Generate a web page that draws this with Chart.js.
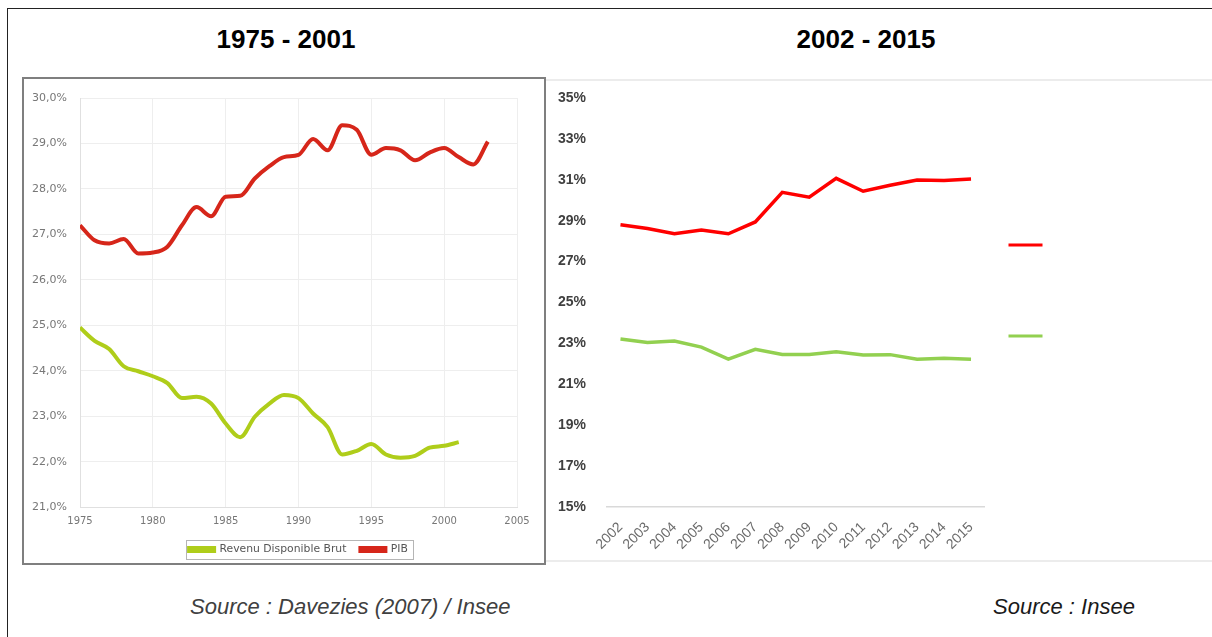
<!DOCTYPE html>
<html>
<head>
<meta charset="utf-8">
<script src="https://cdn.jsdelivr.net/npm/chart.js@4.4.1/dist/chart.umd.min.js"></script>
<style>
  body { margin: 0; width: 1212px; height: 637px; background: #fff; position: relative; overflow: hidden; font-family: "Liberation Sans", Arial, sans-serif; }
  #frame { position: absolute; left: 7px; top: 8px; width: 1230px; height: 650px; border-left: 1.5px solid #222; border-top: 1.5px solid #222; }
  .title { position: absolute; top: 24px; width: 300px; text-align: center; font-weight: bold; font-size: 26px; color: #000; }
  #boxLeft { position: absolute; left: 22px; top: 77px; width: 520px; height: 484px; border: 2px solid #7f7f7f; background: #fff; }
  #boxRight { position: absolute; left: 546px; top: 79px; width: 666px; height: 479px; border-top: 2px solid #ececec; border-bottom: 2px solid #ececec; }
  canvas { display: block; }
  .src { position: absolute; top: 594px; font-style: italic; font-size: 22px; }
</style>
</head>
<body>
<div id="frame"></div>
<div class="title" style="left:136px">1975 - 2001</div>
<div class="title" style="left:716px">2002 - 2015</div>
<div id="boxLeft"><canvas id="left" width="520" height="484"></canvas></div>
<div id="boxRight"><canvas id="right" width="666" height="479"></canvas></div>
<div class="src" style="left:190px; color:#404040">Source : Davezies (2007) / Insee</div>
<div class="src" style="left:993px; color:#1a1a1a">Source : Insee</div>

<script>
// 1975 - 2001 (Davezies / Insee), part du PIB en %
const yearsPib = [1975, 1976, 1977, 1978, 1979, 1980, 1981, 1982, 1983, 1984, 1985, 1986, 1987, 1988, 1989,
                  1990, 1991, 1992, 1993, 1994, 1995, 1996, 1997, 1998, 1999, 2000, 2001, 2002, 2003];
const pibShare = [27.2, 26.87, 26.8, 26.9, 26.58, 26.6, 26.73, 27.2, 27.6, 27.4, 27.83, 27.85, 28.23, 28.5, 28.7,
                  28.75, 29.1, 28.85, 29.4, 29.3, 28.75, 28.9, 28.85, 28.63, 28.8, 28.9, 28.7, 28.54, 29.04];
const yearsRdb = [1975, 1976, 1977, 1978, 1979, 1980, 1981, 1982, 1983, 1984, 1985, 1986, 1987, 1988, 1989,
                  1990, 1991, 1992, 1993, 1994, 1995, 1996, 1997, 1998, 1999, 2000, 2001];
const rdbShare = [24.95, 24.66, 24.48, 24.1, 23.99, 23.88, 23.73, 23.4, 23.43, 23.28, 22.84, 22.54, 22.99, 23.28, 23.47,
                  23.4, 23.06, 22.76, 22.16, 22.24, 22.39, 22.16, 22.09, 22.13, 22.31, 22.35, 22.43];

// 2002 - 2015 (Insee)
const years2 = ['2002', '2003', '2004', '2005', '2006', '2007', '2008', '2009', '2010', '2011', '2012', '2013', '2014', '2015'];
const pibShare2 = [28.8, 28.62, 28.36, 28.55, 28.36, 28.94, 30.39, 30.15, 31.07, 30.44, 30.73, 30.99, 30.97, 31.04];
const rdbShare2 = [23.22, 23.05, 23.12, 22.82, 22.23, 22.71, 22.46, 22.46, 22.59, 22.43, 22.45, 22.23, 22.27, 22.23];

function toPoints(xs, ys) {
  return xs.map((x, i) => ({ x: x, y: ys[i] }));
}

// cadre gris autour de la légende du graphique de gauche
const legendFrame = {
  id: 'legendFrame',
  afterDraw(chart) {
    const lg = chart.legend;
    if (!lg || !lg.legendHitBoxes || !lg.legendHitBoxes.length) return;
    const boxes = lg.legendHitBoxes;
    const l = Math.min(...boxes.map(b => b.left)) - 3;
    const r = Math.max(...boxes.map(b => b.left + b.width)) + 5;
    const t = boxes[0].top - 4;
    const h = boxes[0].height + 8;
    const ctx = chart.ctx;
    ctx.save();
    ctx.strokeStyle = '#b5b5b5';
    ctx.lineWidth = 1;
    ctx.strokeRect(Math.round(l) + 0.5, Math.round(t) + 0.5, Math.round(r - l), Math.round(h));
    ctx.restore();
  }
};

const leftFont = { family: 'DejaVu Sans', size: 10 };

new Chart(document.getElementById('left'), {
  type: 'line',
  data: {
    datasets: [
      {
        label: 'Revenu Disponible Brut',
        data: toPoints(yearsRdb, rdbShare),
        borderColor: '#afcd1a',
        backgroundColor: '#afcd1a',
        borderWidth: 4,
        pointRadius: 0,
        cubicInterpolationMode: 'monotone'
      },
      {
        label: 'PIB',
        data: toPoints(yearsPib, pibShare),
        borderColor: '#d6261a',
        backgroundColor: '#d6261a',
        borderWidth: 4,
        pointRadius: 0,
        cubicInterpolationMode: 'monotone'
      }
    ]
  },
  options: {
    responsive: false,
    animation: false,
    layout: { padding: { left: 8, top: 19, right: 27, bottom: -2 } },
    plugins: {
      tooltip: { enabled: false },
      legend: {
        position: 'bottom',
        fullSize: false,
        labels: { boxWidth: 25, boxHeight: 3, padding: 14, color: '#555', font: { family: 'DejaVu Sans', size: 10.8 } }
      }
    },
    scales: {
      x: {
        type: 'linear',
        min: 1975,
        max: 2005,
        ticks: { stepSize: 5, padding: 8, color: '#777', font: leftFont, callback: v => String(v) },
        grid: { color: '#eeeeee', drawTicks: false },
        border: { color: '#e0e0e0' },
        afterFit: s => { s.height = 23; }
      },
      y: {
        min: 21,
        max: 30,
        ticks: { stepSize: 1, crossAlign: 'far', color: '#777', font: { family: 'DejaVu Sans', size: 11 },
                 callback: v => v.toFixed(1).replace('.', ',') + '%' },
        grid: { color: '#eeeeee', drawTicks: false },
        border: { color: '#e0e0e0' },
        afterFit: s => { s.width = 48; }
      }
    }
  },
  plugins: [legendFrame]
});

new Chart(document.getElementById('right'), {
  type: 'line',
  data: {
    labels: years2,
    datasets: [
      { label: 'PIB', data: pibShare2, borderColor: '#ff0000', backgroundColor: '#ff0000', borderWidth: 3.5, pointRadius: 0, tension: 0 },
      { label: 'Revenu Disponible Brut', data: rdbShare2, borderColor: '#92d050', backgroundColor: '#92d050', borderWidth: 3.5, pointRadius: 0, tension: 0 }
    ]
  },
  options: {
    responsive: false,
    animation: false,
    layout: { padding: { left: 12, top: 17, right: 126, bottom: 0 } },
    plugins: {
      tooltip: { enabled: false },
      legend: {
        position: 'right',
        fullSize: false,
        align: 'center',
        title: { display: true, text: '', font: { size: 1, lineHeight: 0 }, padding: { top: -24, bottom: 0 } },
        labels: {
          boxWidth: 34,
          boxHeight: 3,
          padding: 24,
          font: { size: 67 },
          generateLabels: chart => chart.data.datasets.map((d, i) => ({
            text: '', fillStyle: d.borderColor, strokeStyle: d.borderColor, lineWidth: 0, datasetIndex: i
          }))
        }
      }
    },
    scales: {
      x: {
        offset: true,
        grid: { display: false },
        border: { color: '#d9d9d9', width: 1.5 },
        ticks: { minRotation: 45, maxRotation: 45, autoSkip: false, padding: 4, color: '#6a6a6a', font: { size: 14 } },
        afterFit: s => { s.height = 53; }
      },
      y: {
        min: 15,
        max: 35,
        grid: { display: false },
        border: { display: false },
        ticks: { stepSize: 2, crossAlign: 'far', color: '#404040', font: { size: 14, weight: 'bold' }, callback: v => v + '%' },
        afterFit: s => { s.width = 49; }
      }
    }
  }
});
</script>
</body>
</html>
